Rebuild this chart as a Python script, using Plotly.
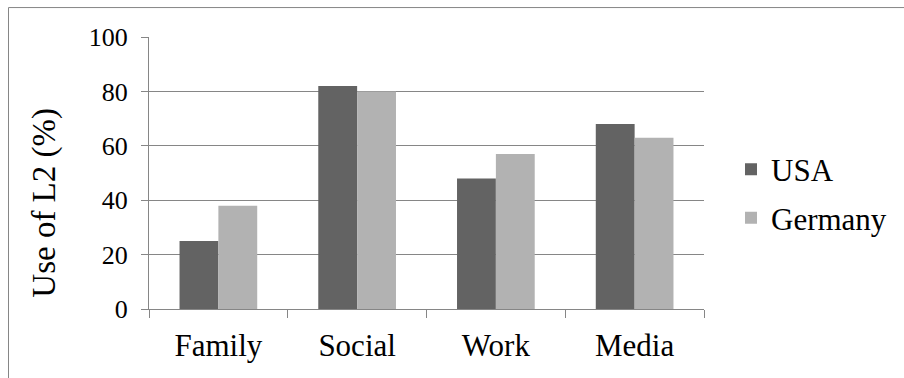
import plotly.graph_objects as go

categories = ["Family", "Social", "Work", "Media"]
usa = [25, 82, 48, 68]
germany = [38, 80, 57, 63]
y_ticks = [0, 20, 40, 60, 80, 100]
y_title = "Use of L2 (%)"

W, H = 904, 378
L, R, T, B = 149, 200, 37, 68.5
pw, ph = W - L - R, H - T - B

font_family = "Liberation Serif"
grid = "#868686"

fig = go.Figure()
fig.add_trace(go.Bar(name="USA", x=categories, y=usa, legendgroup="a",
                     marker=dict(color="#636363", line=dict(width=0))))
fig.add_trace(go.Bar(name="Germany", x=categories, y=germany, legendgroup="b",
                     marker=dict(color="#b2b2b2", line=dict(width=0))))

def px_x(x):
    return (x - L) / pw

def px_y(y):
    return 1 - (y - T) / ph

fig.update_layout(
    width=W, height=H,
    margin=dict(l=L, r=R, t=T, b=B, autoexpand=False),
    paper_bgcolor="white", plot_bgcolor="white",
    barmode="group", bargap=0.44, bargroupgap=0,
    font=dict(family=font_family, color="black"),
    showlegend=True,
    legend=dict(x=px_x(731), y=px_y(194), xanchor="left", yanchor="middle",
                font=dict(size=31, family=font_family, color="black"), tracegroupgap=5,
                bgcolor="rgba(0,0,0,0)"),
    xaxis=dict(showgrid=False, showline=True, linecolor=grid, linewidth=1,
               ticks="outside", tickson="boundaries", ticklen=8, tickcolor=grid,
               ticklabelstandoff=9,
               tickfont=dict(size=31, family=font_family, color="black"), zeroline=False),
    yaxis=dict(range=[0, 100], tickvals=y_ticks, showgrid=True, gridcolor=grid, gridwidth=1,
               showline=True, linecolor=grid, linewidth=1, ticks="outside", ticklen=7,
               ticklabelstandoff=8,
               tickcolor=grid, tickfont=dict(size=26, family=font_family, color="black"),
               zeroline=False),
    annotations=[dict(text=y_title, xref="paper", yref="paper", x=px_x(45), y=px_y(203),
                      xanchor="center", yanchor="middle", textangle=-90, showarrow=False,
                      font=dict(size=33, family=font_family, color="black"))],
    shapes=[dict(type="rect", xref="paper", yref="paper",
                 x0=px_x(8.5), x1=px_x(W + 10), y0=px_y(H + 10), y1=px_y(7.5),
                 line=dict(color="#868686", width=1), fillcolor="rgba(0,0,0,0)", layer="below")],
)

fig.write_html("out.html")
